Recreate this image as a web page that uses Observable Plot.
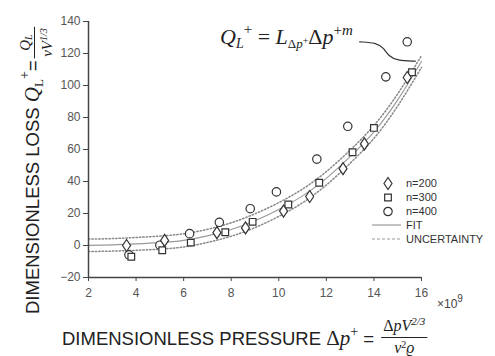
<!DOCTYPE html>
<html><head><meta charset="utf-8">
<script src="https://cdn.jsdelivr.net/npm/d3@7"></script>
<script src="https://cdn.jsdelivr.net/npm/@observablehq/plot@0.6"></script>
<style>body{margin:0;background:#fff;overflow:hidden} #chart{position:relative;width:495px;height:356px}</style>
</head><body><div id="chart"></div>
<script>
// ---- data (x in units of 1e9) ----
const xTicks = [2, 4, 6, 8, 10, 12, 14, 16];
const yTicks = [-20, 0, 20, 40, 60, 80, 100, 120, 140];

const n200X = [3.6, 5.2, 7.4, 8.6, 10.2, 11.3, 12.7, 13.6, 15.4];
const n200Y = [0, 3.2, 8, 11, 21.5, 30.6, 48, 63.5, 105];

const n300X = [3.8, 5.1, 6.3, 7.75, 8.9, 10.4, 11.7, 13.1, 14.0, 15.6];
const n300Y = [-7, -3, 1.8, 8.3, 14.8, 25.6, 39.2, 58.3, 73.5, 108.3];

const n400X = [3.7, 5.0, 6.25, 7.5, 8.8, 9.9, 11.6, 12.9, 14.5, 15.4];
const n400Y = [-5.8, 0.2, 7.4, 14.5, 23, 33.5, 54, 74.5, 105.4, 127.3];

const fitX   = [2, 3, 4, 5, 6, 7, 8, 9, 10, 11, 12, 13, 14, 15, 16];
const fitY   = [0.1, 0.4, 1.0, 1.8, 3.2, 6, 10, 15.5, 22.5, 31, 42, 55.5, 71, 91, 115];
const upperY = [4.0, 4.3, 5.0, 5.9, 7.3, 10.1, 14.2, 19.8, 26.8, 35.3, 46.2, 59.6, 75, 94.8, 118.7];
const lowerY = [-3.8, -3.5, -3.0, -2.3, -0.9, 1.9, 5.8, 11.2, 18.2, 26.7, 37.8, 51.4, 67, 87.2, 111.3];

// annotation connector (data units)
const annX = [13.40, 14.13, 14.40, 14.62, 14.97, 15.74];
const annY = [127.3, 126.6, 123.5, 118.3, 115.6, 115.2];

const seriesNames = ["n=200", "n=300", "n=400"];
const lineNames = ["FIT", "UNCERTAINTY"];

// ---- build tables ----
const pts = (X, Y) => X.map((x, i) => ({x, y: Y[i]}));
const d200 = pts(n200X, n200Y), d300 = pts(n300X, n300Y), d400 = pts(n400X, n400Y);
const fitData = fitX.map((x, i) => ({x, y: fitY[i], u: upperY[i], l: lowerY[i]}));
const annData = pts(annX, annY);

const diamond = {draw(ctx, size) {const r = Math.sqrt(size / Math.PI); const w = r, h = r * 1.5;
  ctx.moveTo(0, -h); ctx.lineTo(w, 0); ctx.lineTo(0, h); ctx.lineTo(-w, 0); ctx.closePath();}};
const square = {draw(ctx, size) {const r = Math.sqrt(size / Math.PI); const s = r * 0.9;
  ctx.rect(-s, -s, 2 * s, 2 * s);}};

const ink = "#333";
const grey = "#999";
const dotGrey = "#888";
const markerStyle = {fill: "white", stroke: ink, strokeWidth: 1.2};

const plot = Plot.plot({
  width: 495, height: 356,
  marginLeft: 88, marginRight: 74, marginTop: 21, marginBottom: 79,
  style: {fontFamily: "'Liberation Sans', Arial, sans-serif", fontSize: "12px", color: "#444", background: "white"},
  x: {domain: [2, 16]},
  y: {domain: [-20, 140]},
  marks: [
    Plot.line(fitData, {x: "x", y: "u", curve: "natural", stroke: dotGrey, strokeWidth: 1.5, strokeDasharray: "1.4,2"}),
    Plot.line(fitData, {x: "x", y: "l", curve: "natural", stroke: dotGrey, strokeWidth: 1.5, strokeDasharray: "1.4,2"}),
    Plot.line(fitData, {x: "x", y: "y", curve: "natural", stroke: grey, strokeWidth: 1.1}),
    Plot.line(annData, {x: "x", y: "y", curve: "basis", stroke: ink, strokeWidth: 1.2}),
    Plot.dot(d400, {x: "x", y: "y", r: 4.2, symbol: "circle", ...markerStyle}),
    Plot.dot(d300, {x: "x", y: "y", r: 3.7, symbol: square, ...markerStyle}),
    Plot.dot(d200, {x: "x", y: "y", r: 4, symbol: diamond, ...markerStyle}),
    Plot.ruleX([2], {y1: -20, y2: 140, stroke: "#444", strokeWidth: 1.5}),
    Plot.ruleY([-20], {x1: 2, x2: 16, stroke: "#444", strokeWidth: 1.5}),
    Plot.axisX({ticks: xTicks, tickSize: 4, tickPadding: 7, fontSize: 12, label: null, stroke: "#444", fill: "#555"}),
    Plot.axisY({ticks: yTicks, tickSize: 5, tickPadding: 3, fontSize: 12, label: null, stroke: "#444", fill: "#555"})
  ]
});
document.getElementById("chart").appendChild(plot);

// ---- text overlays ----
const svg = d3.select(plot);
const SANS = "'Liberation Sans', Arial, sans-serif";
const SERIF = "'Liberation Serif', 'DejaVu Serif', serif";

function addSpans(t, spans) {
  t.attr("text-anchor", t.attr("text-anchor") || "start");
  for (const s of spans) {
    const ts = t.append("tspan").text(s.t)
      .attr("font-family", s.serif ? SERIF : SANS)
      .attr("font-size", s.size)
      .attr("font-style", s.it ? "italic" : "normal");
    if (s.dy) ts.attr("dy", s.dy);
  }
  return t;
}

// legend
const lg = svg.append("g").attr("font-family", SANS).attr("font-size", 11).attr("fill", ink).attr("text-anchor", "start");
const rowsY = [183.5, 197.5, 211.5, 225, 239];
const syms = [diamond, square, d3.symbolCircle];
const rs = [4, 3.7, 4.2];
seriesNames.forEach((name, i) => {
  lg.append("path").attr("d", d3.symbol(syms[i], rs[i] * rs[i] * Math.PI)())
    .attr("transform", `translate(388,${rowsY[i]})`)
    .attr("fill", "white").attr("stroke", ink).attr("stroke-width", 1.2);
  lg.append("text").attr("x", 406).attr("y", rowsY[i]).attr("dy", "0.35em").attr("text-anchor", "start").text(name);
});
lineNames.forEach((name, j) => {
  const y = rowsY[3 + j];
  lg.append("line").attr("x1", 372).attr("x2", 401).attr("y1", y).attr("y2", y)
    .attr("stroke", grey).attr("stroke-width", 1.2).attr("stroke-dasharray", j ? "3,2" : null);
  lg.append("text").attr("x", 406).attr("y", y).attr("dy", "0.35em").attr("text-anchor", "start").text(name);
});

// x10^9
addSpans(svg.append("text").attr("x", 437).attr("y", 308).attr("fill", "#444"),
  [{t: "×10", size: 12}, {t: "9", size: 10, dy: -6}]);

// formula annotation
addSpans(svg.append("text").attr("x", 220).attr("y", 44).attr("fill", "#222"), [
  {t: "Q", serif: 1, it: 1, size: 22},
  {t: "L", serif: 1, it: 1, size: 14, dy: 4},
  {t: "+", serif: 1, size: 15, dy: -14},
  {t: " = ", serif: 1, size: 22, dy: 10},
  {t: "L", serif: 1, it: 1, size: 22},
  {t: "Δ", serif: 1, size: 13, dy: 4},
  {t: "p", serif: 1, it: 1, size: 13},
  {t: "+", serif: 1, size: 10, dy: -4},
  {t: "Δ", serif: 1, size: 22},
  {t: "p", serif: 1, it: 1, size: 22},
  {t: "+", serif: 1, size: 15, dy: -9},
  {t: "m", serif: 1, it: 1, size: 15}
]);

// x label
const xl = addSpans(svg.append("text").attr("x", 62).attr("y", 345).attr("fill", "#222"), [
  {t: "DIMENSIONLESS PRESSURE ", size: 18.5},
  {t: "Δ", serif: 1, size: 21},
  {t: "p", serif: 1, it: 1, size: 21},
  {t: "+", serif: 1, size: 14, dy: -9},
  {t: " = ", size: 18.5, dy: 9}
]);
{
  const end = 62 + xl.node().getComputedTextLength();
  const num = addSpans(svg.append("text").attr("y", 331).attr("fill", "#222").attr("text-anchor", "middle"), [
    {t: "Δ", serif: 1, size: 16}, {t: "pV", serif: 1, it: 1, size: 16}, {t: "2/3", serif: 1, it: 1, size: 11, dy: -6}
  ]);
  const den = addSpans(svg.append("text").attr("y", 353).attr("fill", "#222").attr("text-anchor", "middle"), [
    {t: "ν", serif: 1, it: 1, size: 16}, {t: "2", serif: 1, size: 10, dy: -5}, {t: "ϱ", serif: 1, it: 1, size: 16, dy: 5}
  ]);
  const w = Math.max(num.node().getComputedTextLength(), den.node().getComputedTextLength()) + 4;
  const cx = end + 2 + w / 2;
  num.attr("x", cx); den.attr("x", cx);
  svg.append("line").attr("x1", cx - w / 2).attr("x2", cx + w / 2).attr("y1", 337.5).attr("y2", 337.5)
    .attr("stroke", "#222").attr("stroke-width", 1);
}

// y label (rotated)
const yg = svg.append("g").attr("transform", "translate(38.5,314) rotate(-90)").attr("fill", "#222");
const yl = addSpans(yg.append("text").attr("x", 0).attr("y", 0), [
  {t: "DIMENSIONLESS LOSS ", size: 18.5},
  {t: "Q", serif: 1, it: 1, size: 21},
  {t: "L", serif: 1, size: 13, dy: 4},
  {t: "+", serif: 1, size: 14, dy: -14},
  {t: "=", size: 18.5, dy: 10}
]);
{
  const end = yl.node().getComputedTextLength();
  const num = addSpans(yg.append("text").attr("y", -9).attr("text-anchor", "middle"), [
    {t: "Q", serif: 1, it: 1, size: 15}, {t: "L", serif: 1, it: 1, size: 10, dy: 2}
  ]);
  const den = addSpans(yg.append("text").attr("y", 13).attr("text-anchor", "middle"), [
    {t: "νV", serif: 1, it: 1, size: 15}, {t: "1/3", serif: 1, it: 1, size: 10, dy: -5}
  ]);
  const w = Math.max(num.node().getComputedTextLength(), den.node().getComputedTextLength()) + 3;
  const cu = end + 2 + w / 2;
  num.attr("x", cu); den.attr("x", cu);
  yg.append("line").attr("x1", cu - w / 2).attr("x2", cu + w / 2).attr("y1", -4).attr("y2", -4)
    .attr("stroke", "#222").attr("stroke-width", 1);
}
</script>
</body></html>
